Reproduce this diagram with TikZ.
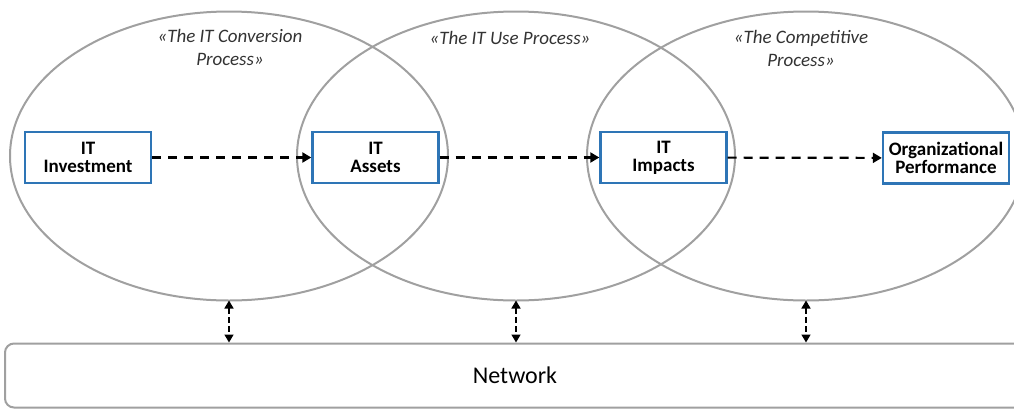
\documentclass[tikz,border=0pt]{standalone}
\usepackage{fontspec}
\setmainfont{Carlito}
\usetikzlibrary{shapes.geometric,arrows.meta}
\definecolor{boxblue}{HTML}{2E75B6}
\definecolor{ringgray}{HTML}{A0A0A0}
\begin{document}
\begin{tikzpicture}[x=1pt,y=-1pt,
  ring/.style={draw=ringgray,line width=2pt,ellipse,minimum width=438pt,minimum height=289pt,inner sep=0pt,outer sep=0pt},
  itbox/.style={draw=boxblue,line width=2.4pt,fill=white,minimum width=126pt,minimum height=51pt,inner sep=0pt,align=center,
    font=\fontsize{19}{18}\selectfont\bfseries},
  proc/.style={align=center,font=\fontsize{19}{23}\selectfont\itshape,text=black!80},
  flow/.style={line width=2.2pt,dash pattern=on 9pt off 7pt,-{Triangle[length=9pt,width=10pt]}},
  link/.style={line width=1.6pt,dash pattern=on 6pt off 3pt,{Triangle[length=8pt,width=9pt]}-{Triangle[length=8pt,width=9pt]}},
  netbox/.style={draw=ringgray,line width=2pt,rounded corners=9pt,minimum width=1020pt,minimum height=64pt,inner sep=0pt,
    font=\fontsize{24}{26}\selectfont}
]
\useasboundingbox (0,0) rectangle (1014,408);
\clip (0,0) rectangle (1014,408);
\node[ring] (e1) at (229,156) {};
\node[ring] (e2) at (516,156) {};
\node[ring] (e3) at (806,156) {};
\node[proc] (p1) at (230,47) {«The IT Conversion\\Process»};
\node[proc] (p2) at (510,38) {«The IT Use Process»};
\node[proc] (p3) at (801,48) {«The Competitive\\Process»};
\node[itbox] (inv) at (88,157.5) {IT\\Investment};
\node[itbox] (ast) at (375.5,157.5) {IT\\Assets};
\node[itbox] (imp) at (663.5,157.5) {IT\\Impacts};
\node[itbox] (org) at (946,158) {Organizational\\Performance};
\node[netbox] (net) at (515,375.5) {Network};
\draw[flow] (inv) -- (ast);
\draw[flow] (ast) -- (imp);
\draw[flow] (imp) -- (org);
\draw[link] (e1.south) -- (e1.south |- net.north);
\draw[link] (e2.south) -- (e2.south |- net.north);
\draw[link] (e3.south) -- (e3.south |- net.north);
\end{tikzpicture}
\end{document}
